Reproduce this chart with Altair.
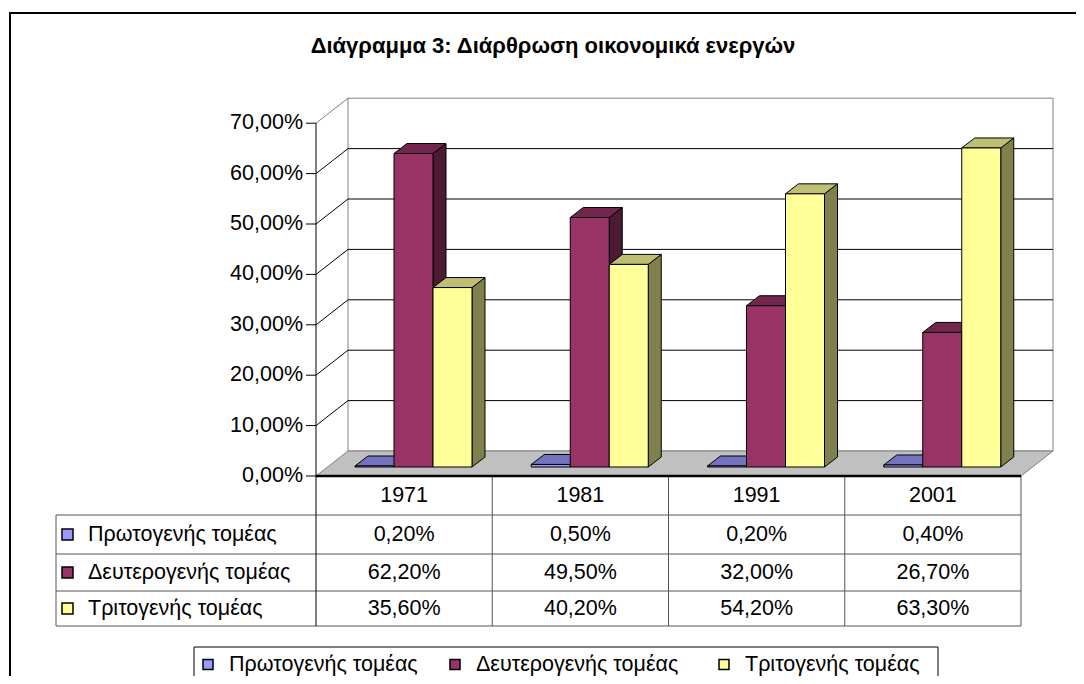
import altair as alt
import pandas as pd

# ---------------- data ----------------
years = ["1971", "1981", "1991", "2001"]
series = ["Πρωτογενής τομέας", "Δευτερογενής τομέας", "Τριτογενής τομέας"]
primary = [0.2, 0.5, 0.2, 0.4]
secondary = [62.2, 49.5, 32.0, 26.7]
tertiary = [35.6, 40.2, 54.2, 63.3]
y_ticks = [0, 10, 20, 30, 40, 50, 60, 70]
title_text = "Διάγραμμα 3: Διάρθρωση οικονομικά ενεργών"

# ---------------- style ----------------
front_colors = ["#9999FF", "#993366", "#FFFF99"]
top_colors = ["#7373BF", "#73264D", "#BFBF73"]
side_colors = ["#4D4D80", "#4D1A33", "#80804D"]
FONT = "Liberation Sans"
FS = 21.5
TITLE_FS = 22

# ---------------- layout ----------------
W, H = 738, 378
PAD = {"left": 308, "top": 90, "right": 22, "bottom": 200}
X0 = 8 + PAD["left"]          # page x of value axis
Y0 = 8 + PAD["top"] + H       # page y of 0 %
PX_X = 176.25                 # px per category slot
PX_Y = H / 75.0               # px per percent


def ux(px):
    return (px - X0) / PX_X


def uy(py):
    return (Y0 - py) / PX_Y


N = len(years)
WALL_DX = 32 / PX_X
WALL_DY = 25 / PX_Y
BAR_W = 39 / PX_X
DEPTH_DX = 13 / PX_X
DEPTH_DY = 10 / PX_Y
BASE = 9 / PX_Y
Y_TOP = max(y_ticks)

xs = alt.Scale(domain=[0, W / PX_X], nice=False, zero=False)
ys = alt.Scale(domain=[0, H / PX_Y], nice=False, zero=False)


def X(f):
    return alt.X(f + ":Q", scale=xs, axis=None, stack=None)


def Y(f):
    return alt.Y(f + ":Q", scale=ys, axis=None, stack=None)


values = [primary, secondary, tertiary]

bar_rows, side_rows, top_rows = [], [], []
for s, name in enumerate(series):
    for i, yr in enumerate(years):
        xl = i + (s + 1) * BAR_W
        xr = xl + BAR_W
        y0 = BASE
        y1 = BASE + values[s][i]
        bid = f"{s}-{i}"
        bar_rows.append(dict(bar=bid, series=name, xl=xl, xr=xr, y0=y0, y1=y1))
        side_rows.append(dict(bar=bid, key=f"side{s}", x=xr, ya=y1, yb=y0))
        side_rows.append(dict(bar=bid, key=f"side{s}", x=xr + DEPTH_DX, ya=y1 + DEPTH_DY, yb=y0 + DEPTH_DY))
        top_rows.append(dict(bar=bid, key=f"top{s}", yy=y1, xa=xl, xb=xr))
        top_rows.append(dict(bar=bid, key=f"top{s}", yy=y1 + DEPTH_DY, xa=xl + DEPTH_DX, xb=xr + DEPTH_DX))

bars = pd.DataFrame(bar_rows)
sides = pd.DataFrame(side_rows)
tops = pd.DataFrame(top_rows)

color_scale = alt.Scale(domain=series, range=front_colors)
fill_scale = alt.Scale(domain=[f"top{s}" for s in range(3)] + [f"side{s}" for s in range(3)],
                       range=top_colors + side_colors)

layers = []

# outer frame
frame = pd.DataFrame([dict(xa=ux(10), xb=ux(1095), ya=uy(13), yb=uy(700))])
layers.append(alt.Chart(frame).mark_rect(fill="white", stroke="black", strokeWidth=2).encode(
    x=X("xa"), x2="xb", y=Y("ya"), y2="yb"))

# title
layers.append(alt.Chart(pd.DataFrame([dict(x=ux(553), y=uy(46), t=title_text)])).mark_text(
    font=FONT, fontSize=TITLE_FS, fontWeight="bold", color="black", baseline="middle", align="center").encode(
    x=X("x"), y=Y("y"), text="t:N"))

# back wall
wall = pd.DataFrame([dict(xa=WALL_DX, xb=N + WALL_DX, ya=WALL_DY, yb=Y_TOP + WALL_DY)])
layers.append(alt.Chart(wall).mark_rect(fill="white", stroke="#808080", strokeWidth=1).encode(
    x=X("xa"), x2="xb", y=Y("ya"), y2="yb"))

# floor
floor = pd.DataFrame([dict(yy=0, xa=0, xb=N), dict(yy=WALL_DY, xa=WALL_DX, xb=N + WALL_DX)])
layers.append(alt.Chart(floor).mark_area(orient="horizontal", fill="#C0C0C0", stroke="#808080",
                                         strokeWidth=1).encode(
    y=Y("yy"), x=X("xa"), x2="xb"))

# gridlines on back wall + diagonals on side wall
grid = pd.DataFrame([dict(v=v + WALL_DY, xa=WALL_DX, xb=N + WALL_DX) for v in y_ticks[1:-1]])
layers.append(alt.Chart(grid).mark_rule(color="black", strokeWidth=1).encode(
    x=X("xa"), x2="xb", y=Y("v")))
diag = pd.DataFrame([dict(xa=0, xb=WALL_DX, ya=v, yb=v + WALL_DY, c=("#808080" if v == Y_TOP else "black"))
                     for v in y_ticks[1:]])
layers.append(alt.Chart(diag).mark_rule(strokeWidth=1).encode(
    x=X("xa"), x2="xb", y=Y("ya"), y2="yb", color=alt.Color("c:N", scale=None)))

# bars: side faces, top faces, front faces
layers.append(alt.Chart(sides).mark_area(orient="vertical", stroke="black", strokeWidth=1,
                                         interpolate="linear").encode(
    x=X("x"), y=Y("ya"), y2="yb", fill=alt.Fill("key:N", scale=fill_scale, legend=None), detail="bar:N"))
layers.append(alt.Chart(tops).mark_area(orient="horizontal", stroke="black", strokeWidth=1,
                                        interpolate="linear").encode(
    y=Y("yy"), x=X("xa"), x2="xb", fill=alt.Fill("key:N", scale=fill_scale, legend=None), detail="bar:N"))
layers.append(alt.Chart(bars).mark_rect(stroke="black", strokeWidth=1).encode(
    x=X("xl"), x2="xr", y=Y("y1"), y2="y0",
    color=alt.Color("series:N", scale=color_scale, legend=None)))

# value axis (front plane): ticks and labels
ticks_df = pd.DataFrame([dict(xa=ux(306), xb=0, v=v,
                              t=f"{v:.2f}%".replace(".", ","), xl=ux(303)) for v in y_ticks])
layers.append(alt.Chart(ticks_df).mark_rule(color="black", strokeWidth=1).encode(
    x=X("xa"), x2="xb", y=Y("v")))
layers.append(alt.Chart(ticks_df).mark_text(font=FONT, fontSize=FS, color="black", align="right",
                                            baseline="middle").encode(
    x=X("xl"), y=Y("v"), text="t:N"))

# data table lines
row_lines = [515, 554, 591, 626]
tl = []
for py in row_lines:
    tl.append(dict(xa=ux(56), xb=N, ya=uy(py), yb=uy(py)))
tl.append(dict(xa=ux(56), xb=ux(56), ya=uy(row_lines[0]), yb=uy(row_lines[-1])))
for i in range(1, N + 1):
    tl.append(dict(xa=i, xb=i, ya=0, yb=uy(row_lines[-1])))
layers.append(alt.Chart(pd.DataFrame(tl)).mark_rule(color="#555555", strokeWidth=1).encode(
    x=X("xa"), x2="xb", y=Y("ya"), y2="yb"))

# axis line (front) continuing down the table, and floor front edge
layers.append(alt.Chart(pd.DataFrame([dict(x=0, ya=uy(row_lines[-1]), yb=Y_TOP)])).mark_rule(
    color="black", strokeWidth=1).encode(x=X("x"), y=Y("ya"), y2="yb"))
layers.append(alt.Chart(pd.DataFrame([dict(xa=0, xb=N, y=0)])).mark_rule(
    color="black", strokeWidth=2.5).encode(x=X("xa"), x2="xb", y=Y("y")))

# table header (years)
hdr = pd.DataFrame([dict(x=i + 0.5, y=uy(496), t=yr) for i, yr in enumerate(years)])
layers.append(alt.Chart(hdr).mark_text(font=FONT, fontSize=FS, color="black", baseline="middle").encode(
    x=X("x"), y=Y("y"), text="t:N"))

# table cells
row_centers = [(row_lines[k] + row_lines[k + 1]) / 2 for k in range(3)]
cells, labels = [], []
for s, name in enumerate(series):
    for i in range(N):
        cells.append(dict(x=i + 0.5, y=uy(row_centers[s]),
                          t=f"{values[s][i]:.2f}%".replace(".", ",")))
    labels.append(dict(series=name, x=ux(88), y=uy(row_centers[s]),
                       xa=ux(62), xb=ux(73), ya=uy(row_centers[s] - 5.5), yb=uy(row_centers[s] + 5.5)))
layers.append(alt.Chart(pd.DataFrame(cells)).mark_text(font=FONT, fontSize=FS, color="black",
                                                        baseline="middle").encode(
    x=X("x"), y=Y("y"), text="t:N"))
lab = pd.DataFrame(labels)
layers.append(alt.Chart(lab).mark_rect(stroke="black", strokeWidth=1.5).encode(
    x=X("xa"), x2="xb", y=Y("ya"), y2="yb", color=alt.Color("series:N", scale=color_scale, legend=None)))
layers.append(alt.Chart(lab).mark_text(font=FONT, fontSize=FS, color="black", align="left",
                                       baseline="middle").encode(
    x=X("x"), y=Y("y"), text="series:N"))

# legend
leg_box = pd.DataFrame([dict(xa=ux(194), xb=ux(938), ya=uy(647), yb=uy(700))])
layers.append(alt.Chart(leg_box).mark_rect(fill="white", stroke="black", strokeWidth=1).encode(
    x=X("xa"), x2="xb", y=Y("ya"), y2="yb"))
leg_text_x = [229, 476, 745]
leg = pd.DataFrame([dict(series=name, x=ux(leg_text_x[s]), y=uy(664.5),
                         xa=ux(leg_text_x[s] - 26), xb=ux(leg_text_x[s] - 16),
                         ya=uy(659.5), yb=uy(669.5)) for s, name in enumerate(series)])
layers.append(alt.Chart(leg).mark_rect(stroke="black", strokeWidth=1.5).encode(
    x=X("xa"), x2="xb", y=Y("ya"), y2="yb", color=alt.Color("series:N", scale=color_scale, legend=None)))
layers.append(alt.Chart(leg).mark_text(font=FONT, fontSize=FS, color="black", align="left",
                                       baseline="middle").encode(
    x=X("x"), y=Y("y"), text="series:N"))

chart = alt.layer(*layers).properties(
    width=W, height=H, padding=PAD, autosize=alt.AutoSizeParams(type="none"),
    background="white"
).configure_view(stroke=None)

chart.save("out.html", embed_options={"renderer": "svg", "actions": False})
